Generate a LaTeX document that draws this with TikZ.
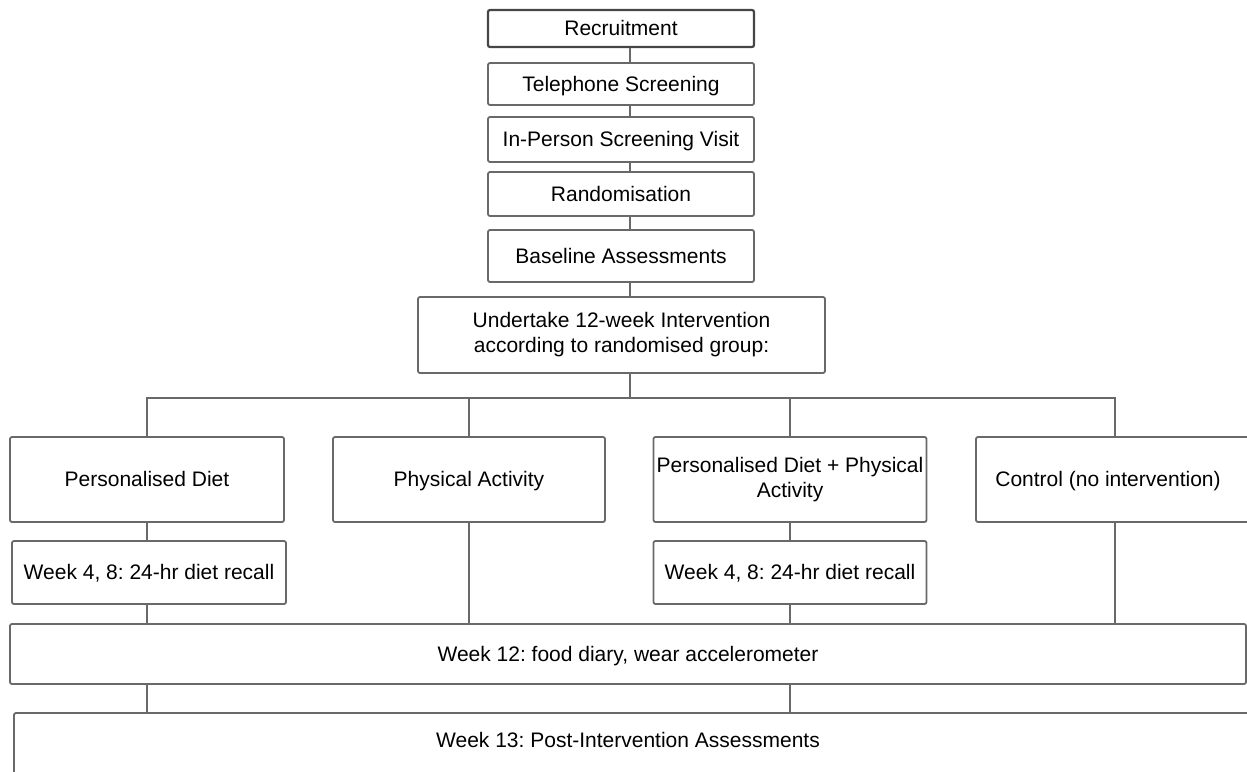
\documentclass[tikz,border=0pt]{standalone}
\usepackage{fontspec}
\setmainfont{Liberation Sans}
\frenchspacing
\definecolor{linegray}{RGB}{105,105,105}
\definecolor{darkline}{RGB}{70,70,70}
\begin{document}
\begin{tikzpicture}[x=1pt,y=-1pt,
  conn/.style={draw=linegray, line width=1.8pt},
  box/.style={draw=linegray, line width=1.8pt, rounded corners=2pt, fill=white,
    inner sep=0pt, align=center, font=\fontsize{21}{25}\selectfont},
  one/.style={text height=15pt, text depth=1pt},
  txt/.style={inner sep=0pt, align=center, font=\fontsize{21}{25}\selectfont, text height=15pt, text depth=1pt},
]
\useasboundingbox (0,0) rectangle (1247,771);
\clip (0,0) rectangle (1247,771);
\coordinate (spine) at (630,0);
\coordinate (bar) at (630,398);

% top column
\node[box, one, draw=darkline, line width=2.2pt, minimum width=266pt, minimum height=37pt] (rec) at (621,28.5) {Recruitment};
\node[box, one, minimum width=266pt, minimum height=42pt] (tel) at (621,84) {Telephone Screening};
\node[box, one, minimum width=266pt, minimum height=45pt] (inp) at (621,139.5) {In-Person Screening Visit};
\node[box, one, minimum width=266pt, minimum height=44pt] (ran) at (621,194) {Randomisation};
\node[box, one, minimum width=266pt, minimum height=52pt] (bas) at (621,256) {Baseline Assessments};
\node[box, minimum width=407pt, minimum height=76pt] (und) at (621.5,335) {Undertake 12-week Intervention\\according to randomised group:};

% groups
\node[box, one, minimum width=274pt, minimum height=85pt] (pd) at (147,479.5) {Personalised Diet};
\node[box, one, minimum width=272pt, minimum height=85pt] (pa) at (469,479.5) {Physical Activity};
\node[box, minimum width=273pt, minimum height=85pt] (pdpa) at (790,479.5) {Personalised Diet + Physical\\Activity};
\node[box, minimum width=278pt, minimum height=85pt,
  label={[txt, xshift=-7pt]center:Control (no intervention)}] (ctrl) at (1115,479.5) {};

% recalls
\node[box, one, minimum width=274pt, minimum height=63pt] (wl) at (149,572.5) {Week 4, 8: 24-hr diet recall};
\node[box, one, minimum width=273pt, minimum height=63pt] (wr) at (790,572.5) {Week 4, 8: 24-hr diet recall};

% week 12 / 13
\node[box, one, minimum width=1236pt, minimum height=60pt] (w12) at (628,654) {Week 12: food diary, wear accelerometer};
\node[box, minimum width=1286pt, minimum height=87pt] (w13) at (657,756.5) {};
\node[txt] (w13t) at (628,740) {Week 13: Post-Intervention Assessments};

% connectors
\draw[conn] (spine |- rec.south) -- (spine |- tel.north);
\draw[conn] (spine |- tel.south) -- (spine |- inp.north);
\draw[conn] (spine |- inp.south) -- (spine |- ran.north);
\draw[conn] (spine |- ran.south) -- (spine |- bas.north);
\draw[conn] (spine |- bas.south) -- (spine |- und.north);
\draw[conn] (spine |- und.south) -- (bar);
\draw[conn] (pd.north) -- (pd.north |- bar) -- (ctrl.north |- bar) -- (ctrl.north);
\draw[conn] (pa.north |- bar) -- (pa.north);
\draw[conn] (pdpa.north |- bar) -- (pdpa.north);

\draw[conn] (pd.south) -- (pd.south |- wl.north);
\draw[conn] (pd.south |- wl.south) -- (pd.south |- w12.north);
\draw[conn] (pa.south) -- (pa.south |- w12.north);
\draw[conn] (pdpa.south) -- (wr.north);
\draw[conn] (wr.south) -- (wr.south |- w12.north);
\draw[conn] (ctrl.south) -- (ctrl.south |- w12.north);

\draw[conn] (pd.south |- w12.south) -- (pd.south |- w13.north);
\draw[conn] (wr.south |- w12.south) -- (wr.south |- w13.north);
\end{tikzpicture}
\end{document}
